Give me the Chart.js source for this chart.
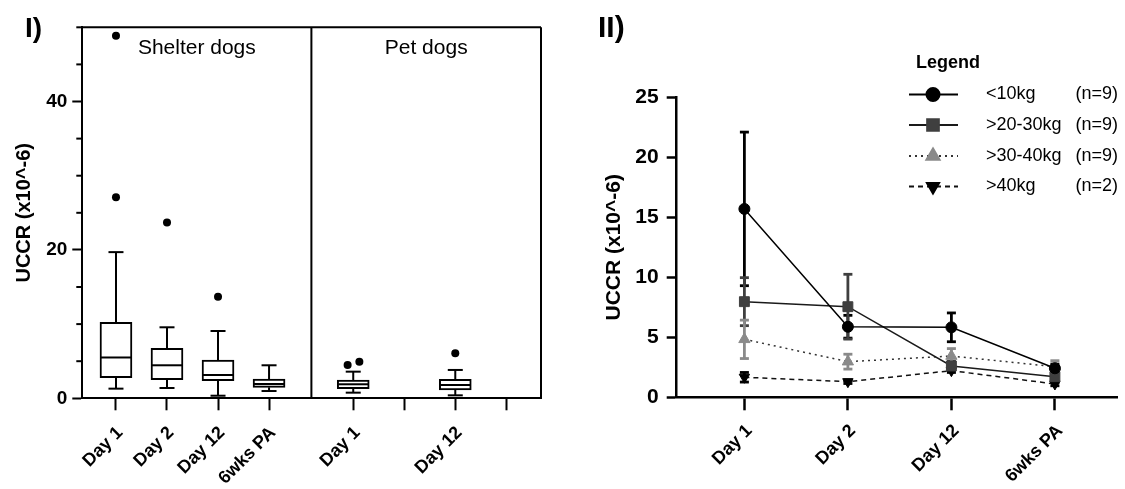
<!DOCTYPE html>
<html>
<head>
<meta charset="utf-8">
<script src="https://cdn.jsdelivr.net/npm/chart.js@4.4.1/dist/chart.umd.min.js"></script>
<style>
  html, body { margin: 0; padding: 0; background: #fff; }
  #wrap { position: relative; width: 1125px; height: 489px; }
  #boxCanvas { position: absolute; left: 0; top: 0; }
  #lineCanvas { position: absolute; left: 560px; top: 0; }
</style>
</head>
<body>
<div id="wrap">
  <canvas id="boxCanvas" width="560" height="489"></canvas>
  <canvas id="lineCanvas" width="565" height="489"></canvas>
</div>
<script>
const FONT = "'Liberation Sans', Arial, Helvetica, sans-serif";
Chart.defaults.font.family = FONT;
Chart.defaults.color = "#000";

// ---- panel I : box plots ----
const boxLabels = ["Day 1", "Day 2", "Day 12", "6wks PA", "Day 1", "", "Day 12", ""];
const boxSlots = [1, 2, 3, 4, 5.65, 6.65, 7.65, 8.65];
const groupNames = ["Shelter dogs", "Pet dogs"];
const groupSplit = 4.83;

// one entry per drawn box (pet Day 2 / 6wks slots are empty)
const boxSlotIdx  = [0, 1, 2, 3, 4, 6];
const whiskerLow  = [1.3, 1.39, 0.35, 0.98, 0.76, 0.40];
const q1          = [2.78, 2.51, 2.37, 1.48, 1.30, 1.12];
const median      = [5.5, 4.45, 3.14, 1.93, 1.89, 1.79];
const q3          = [10.25, 6.74, 5.16, 2.6, 2.47, 2.56];
const whiskerHigh = [19.7, 9.57, 9.07, 4.45, 3.59, 3.82];

const outlierSlot   = [0, 0, 1, 2, 4, 4, 6];
const outlierVal    = [48.85, 27.1, 23.7, 13.7, 4.49, 4.94, 6.07];
const outlierJitter = [0, 0, 0, 0, -0.11, 0.12, 0];

// ---- panel II : mean +/- error by weight class ----
const timeLabels = ["Day 1", "Day 2", "Day 12", "6wks PA"];
const seriesNames = ["<10kg", ">20-30kg", ">30-40kg", ">40kg"];
const seriesN = ["(n=9)", "(n=9)", "(n=9)", "(n=2)"];
const under10    = [15.7, 5.88, 5.83, 2.42];
const under10Err = [6.4, 0.95, 1.2, 0.35];
const w20to30    = [7.97, 7.55, 2.61, 1.72];
const w20to30Err = [2.0, 2.7, 0.4, 0.5];
const w30to40    = [4.83, 2.97, 3.44, 2.55];
const w30to40Err = [1.6, 0.62, 0.62, 0.5];
const over40     = [1.67, 1.3, 2.22, 1.11];
const over40Err  = [0.4, 0.15, 0.15, 0.15];

function line(ctx, x1, y1, x2, y2) {
  ctx.beginPath();
  ctx.moveTo(x1, y1);
  ctx.lineTo(x2, y2);
  ctx.stroke();
}

// whiskers, medians, frame, labels
const boxExtras = {
  id: "boxExtras",
  afterDatasetsDraw(chart) {
    const { ctx, chartArea: a, scales: { x, y } } = chart;
    ctx.save();
    ctx.strokeStyle = "#000";
    ctx.lineWidth = 2;

    boxSlotIdx.forEach((s, i) => {
      const cx = x.getPixelForValue(boxSlots[s]);
      const yHi = y.getPixelForValue(whiskerHigh[i]);
      const yLo = y.getPixelForValue(whiskerLow[i]);
      line(ctx, cx, y.getPixelForValue(q3[i]), cx, yHi);
      line(ctx, cx, y.getPixelForValue(q1[i]), cx, yLo);
      line(ctx, cx - 7.5, yHi, cx + 7.5, yHi);
      line(ctx, cx - 7.5, yLo, cx + 7.5, yLo);
      const ym = y.getPixelForValue(median[i]);
      line(ctx, cx - 15, ym, cx + 15, ym);
    });

    // frame + group divider
    const sx = x.getPixelForValue(groupSplit);
    line(ctx, a.left, a.top, a.right, a.top);
    line(ctx, a.right, a.top, a.right, a.bottom);
    line(ctx, sx, a.top, sx, a.bottom);

    // minor ticks
    for (let v = 5; v <= 50; v += 5) {
      if (v % 20 === 0) continue;
      const py = y.getPixelForValue(v);
      line(ctx, a.left - 6, py, a.left, py);
    }

    ctx.fillStyle = "#000";
    ctx.font = "21px " + FONT;
    ctx.textAlign = "center";
    ctx.textBaseline = "alphabetic";
    ctx.fillText(groupNames[0], (a.left + sx) / 2, 54);
    ctx.fillText(groupNames[1], (sx + a.right) / 2, 54);

    ctx.font = "bold 28px " + FONT;
    ctx.textAlign = "left";
    ctx.fillText("I)", 25, 37);
    ctx.restore();
  }
};

new Chart(document.getElementById("boxCanvas"), {
  type: "bar",
  data: {
    datasets: [{
      type: "bar",
      data: boxSlotIdx.map((s, i) => ({ x: boxSlots[s], y: [q1[i], q3[i]] })),
      backgroundColor: "#fff",
      borderColor: "#000",
      borderWidth: 2,
      borderSkipped: false,
      barThickness: 32
    }, {
      type: "scatter",
      data: outlierSlot.map((s, i) => ({ x: boxSlots[s] + outlierJitter[i], y: outlierVal[i] })),
      pointRadius: 4,
      pointBackgroundColor: "#000",
      pointBorderColor: "#000",
      pointBorderWidth: 0
    }]
  },
  options: {
    responsive: false,
    animation: false,
    layout: { padding: { top: 27.3, right: 19, left: 0, bottom: 0 } },
    plugins: { legend: { display: false }, tooltip: { enabled: false } },
    scales: {
      x: {
        type: "linear",
        min: 0.34,
        max: 9.33,
        offset: false,
        afterBuildTicks: axis => { axis.ticks = boxSlots.map(v => ({ value: v })); },
        afterFit: axis => { axis.height = 90.7; },
        ticks: {
          callback: (v, i) => boxLabels[i],
          autoSkip: false,
          minRotation: 45,
          maxRotation: 45,
          padding: 12,
          labelOffset: 4,
          font: { size: 18, weight: "bold" },
          color: "#000"
        },
        grid: { drawOnChartArea: false, offset: false, tickLength: 12, tickWidth: 2, tickColor: "#000" },
        border: { display: true, color: "#000", width: 2 }
      },
      y: {
        min: 0,
        max: 50,
        afterFit: axis => { axis.width = 82.3; },
        ticks: {
          stepSize: 5,
          callback: v => (v % 20 === 0 ? v : ""),
          padding: 5,
          font: { size: 19, weight: "bold" },
          color: "#000"
        },
        grid: {
          drawOnChartArea: false,
          tickLength: 10,
          tickWidth: 2,
          tickColor: ctx => (ctx.tick && ctx.tick.value % 20 === 0 ? "#000" : "rgba(0,0,0,0)")
        },
        border: { display: true, color: "#000", width: 2 },
        title: {
          display: true,
          text: "UCCR (x10^-6)",
          font: { size: 20, weight: "bold" },
          color: "#000",
          padding: { top: 12, bottom: 0 }
        }
      }
    }
  },
  plugins: [boxExtras]
});

// ---- panel II ----
const seriesValues = [under10, w20to30, w30to40, over40];
const seriesErrors = [under10Err, w20to30Err, w30to40Err, over40Err];
const markerColors = ["#000", "#3f3f3f", "#8a8a8a", "#000"];
const lineColors = ["#000", "#1a1a1a", "#333", "#111"];
const lineDashes = [[], [], [2, 4], [5, 4]];
const pointStyles = ["circle", "rect", "triangle", "triangle"];
const pointRadii = [5.5, 7, 6.5, 6];
const pointRotations = [0, 0, 0, 180];

const errorBars = {
  id: "errorBars",
  beforeDatasetsDraw(chart) {
    const { ctx, scales: { x, y } } = chart;
    ctx.save();
    ctx.lineWidth = 2.8;
    seriesValues.forEach((vals, k) => {
      ctx.strokeStyle = markerColors[k];
      vals.forEach((v, i) => {
        const e = seriesErrors[k][i];
        const cx = x.getPixelForValue(i);
        const yt = y.getPixelForValue(v + e);
        const yb = y.getPixelForValue(v - e);
        line(ctx, cx, yt, cx, yb);
        line(ctx, cx - 4.5, yt, cx + 4.5, yt);
        line(ctx, cx - 4.5, yb, cx + 4.5, yb);
      });
    });
    ctx.restore();
  },
  afterDraw(chart) {
    const { ctx } = chart;
    const ox = 560;
    ctx.save();
    ctx.fillStyle = "#000";
    ctx.font = "bold 30px " + FONT;
    ctx.textAlign = "left";
    ctx.textBaseline = "alphabetic";
    ctx.fillText("II)", 598 - ox, 37);

    ctx.font = "bold 18px " + FONT;
    ctx.fillText("Legend", 916 - ox, 68);

    const rows = [94.5, 125, 156, 186.5];
    rows.forEach((ry, k) => {
      ctx.strokeStyle = lineColors[k];
      ctx.lineWidth = 1.8;
      ctx.setLineDash(lineDashes[k]);
      line(ctx, 909 - ox, ry, 958 - ox, ry);
      ctx.setLineDash([]);
      ctx.fillStyle = markerColors[k];
      ctx.strokeStyle = markerColors[k];
      Chart.helpers.drawPoint(ctx, {
        pointStyle: pointStyles[k],
        radius: pointRadii[k] * 1.2,
        rotation: pointRotations[k],
        borderWidth: 1
      }, 933 - ox, ry);
      ctx.fillStyle = "#000";
      ctx.font = "18px " + FONT;
      ctx.textBaseline = "middle";
      ctx.textAlign = "left";
      ctx.fillText(seriesNames[k], 986 - ox, ry);
      ctx.textAlign = "right";
      ctx.fillText(seriesN[k], 1118 - ox, ry);
    });
    ctx.restore();
  }
};

new Chart(document.getElementById("lineCanvas"), {
  type: "line",
  data: {
    datasets: seriesValues.map((vals, k) => ({
      label: seriesNames[k],
      data: vals.map((v, i) => ({ x: i, y: v })),
      borderColor: lineColors[k],
      borderWidth: 1.5,
      borderDash: lineDashes[k],
      pointStyle: pointStyles[k],
      pointRadius: pointRadii[k],
      pointRotation: pointRotations[k],
      pointBackgroundColor: markerColors[k],
      pointBorderColor: markerColors[k],
      pointBorderWidth: 1,
      tension: 0,
      fill: false
    }))
  },
  options: {
    responsive: false,
    animation: false,
    layout: { padding: { top: 97.3, right: 0, left: 0, bottom: 0 } },
    plugins: { legend: { display: false }, tooltip: { enabled: false } },
    scales: {
      x: {
        type: "linear",
        min: -0.654,
        max: 3.6,
        afterBuildTicks: axis => { axis.ticks = timeLabels.map((_, i) => ({ value: i })); },
        afterFit: axis => { axis.height = 91.7; },
        ticks: {
          callback: (v, i) => timeLabels[i],
          autoSkip: false,
          minRotation: 45,
          maxRotation: 45,
          padding: 10,
          labelOffset: 5,
          font: { size: 18, weight: "bold" },
          color: "#000"
        },
        grid: { drawOnChartArea: false, tickLength: 13, tickWidth: 2.5, tickColor: "#000" },
        border: { display: true, color: "#000", width: 2.5 }
      },
      y: {
        min: 0,
        max: 25,
        afterFit: axis => { axis.width = 116.7; },
        ticks: {
          stepSize: 5,
          padding: 8,
          font: { size: 21, weight: "bold" },
          color: "#000"
        },
        grid: { drawOnChartArea: false, tickLength: 10, tickWidth: 2.5, tickColor: "#000" },
        border: { display: true, color: "#000", width: 2.5 },
        title: {
          display: true,
          text: "UCCR (x10^-6)",
          font: { size: 21, weight: "bold" },
          color: "#000",
          padding: { top: 41.4, bottom: 0 }
        }
      }
    }
  },
  plugins: [errorBars]
});
</script>
</body>
</html>
